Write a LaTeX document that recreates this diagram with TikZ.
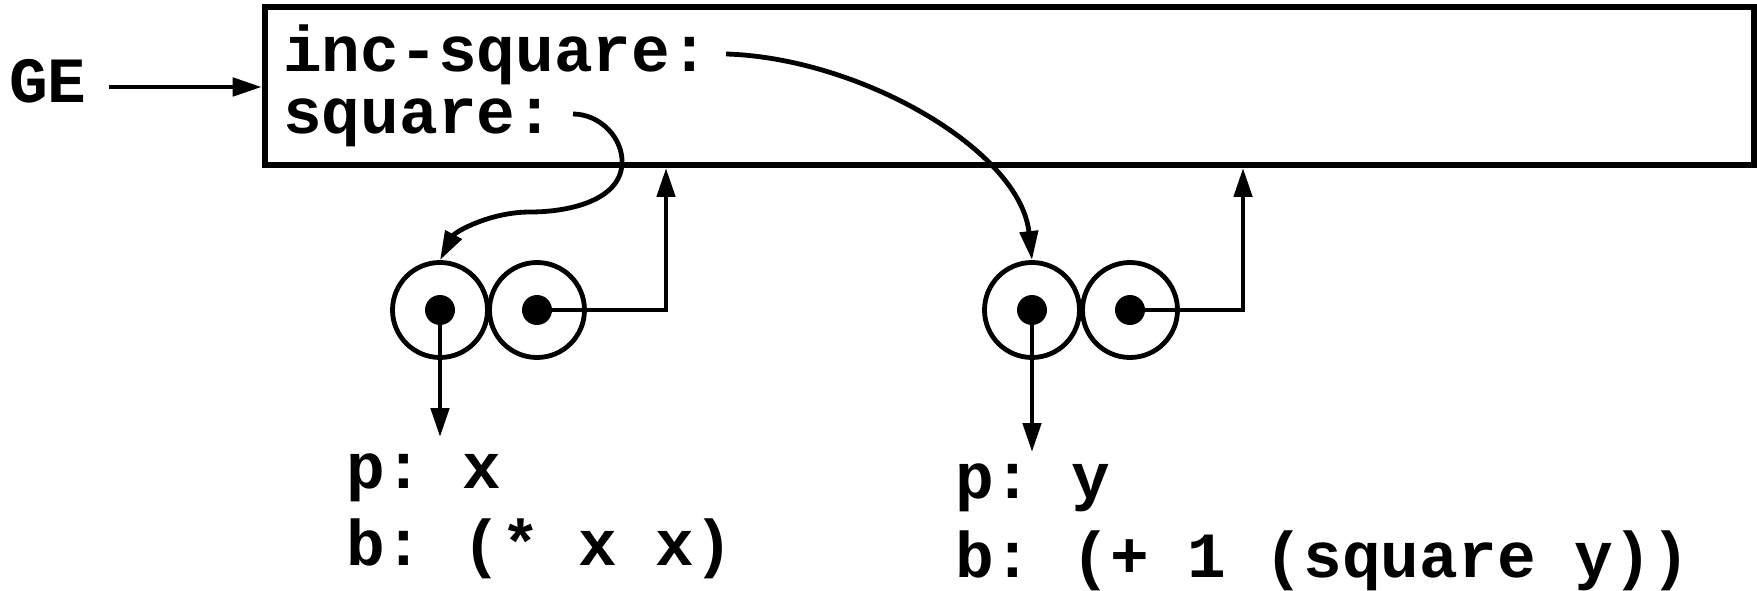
\documentclass[tikz,border=0pt]{standalone}
\usepackage{fontspec}
\setmainfont{Liberation Mono}
\usetikzlibrary{arrows.meta,calc}
\frenchspacing
\tikzset{
  lbl/.style={inner sep=0pt, anchor=base west, font=\fontsize{64.5bp}{64.5bp}\selectfont\bfseries},
  frame/.style={draw, line width=6.5bp, minimum width=1489bp, minimum height=158bp, inner sep=0pt},
  cell/.style={circle, draw, line width=4.8bp, minimum size=95bp, inner sep=0pt},
  dot/.style={circle, fill, minimum size=30bp, inner sep=0pt},
  arr/.style={line width=4.8bp, -{Triangle[length=29bp,width=18bp]}}
}
\begin{document}
\begin{tikzpicture}[x=1bp,y=-1bp]
\useasboundingbox (0,0) rectangle (1757,591);
% environment frame
\node[frame] (box) at (1009.5,86) {};
\node[lbl] (ge) at (9,103) {GE};
\node[lbl] (inc) at (283,72) {inc-square:};
\node[lbl] (sq) at (283,134) {square:};
% procedure objects
\node[cell] (c1a) at (440,310) {};
\node[cell] (c1b) at (537,310) {};
\node[cell] (c2a) at (1032,310) {};
\node[cell] (c2b) at (1130,310) {};
\node[dot] (d1a) at (440,310) {};
\node[dot] (d1b) at (537,310) {};
\node[dot] (d2a) at (1032,310) {};
\node[dot] (d2b) at (1130,310) {};
% texts
\node[lbl] (p1) at (346,488) {p: x};
\node[lbl] (b1) at (346,565) {b: (* x x)};
\node[lbl] (p2) at (955,498) {p: y};
\node[lbl] (b2) at (955,577) {b: (+ 1 (square y))};
% free ends
\coordinate (geS) at (109,87);
\coordinate (sqS) at (573,114);
\coordinate (incS) at (726,54);
\coordinate (up1) at (666,168);
\coordinate (up2) at (1243,168);
\coordinate (dn1) at (440,437);
\coordinate (dn2) at (1032,452);
% connectors
\draw[arr] (geS) -- (box.west |- geS);
\draw[arr] (sqS) .. controls (600,114) and (623,138) .. (622,163)
  .. controls (621,200) and (570,212) .. (530,212)
  .. controls (490,212) and (455,232) .. (c1a.north);
\draw[arr] (incS) .. controls (860,58) and (1020,150) .. (c2a.north);
\draw[arr] (d1a.center) -- (dn1);
\draw[arr] (d2a.center) -- (dn2);
\draw[arr] (d1b.center) -| (up1);
\draw[arr] (d2b.center) -| (up2);
\end{tikzpicture}
\end{document}
